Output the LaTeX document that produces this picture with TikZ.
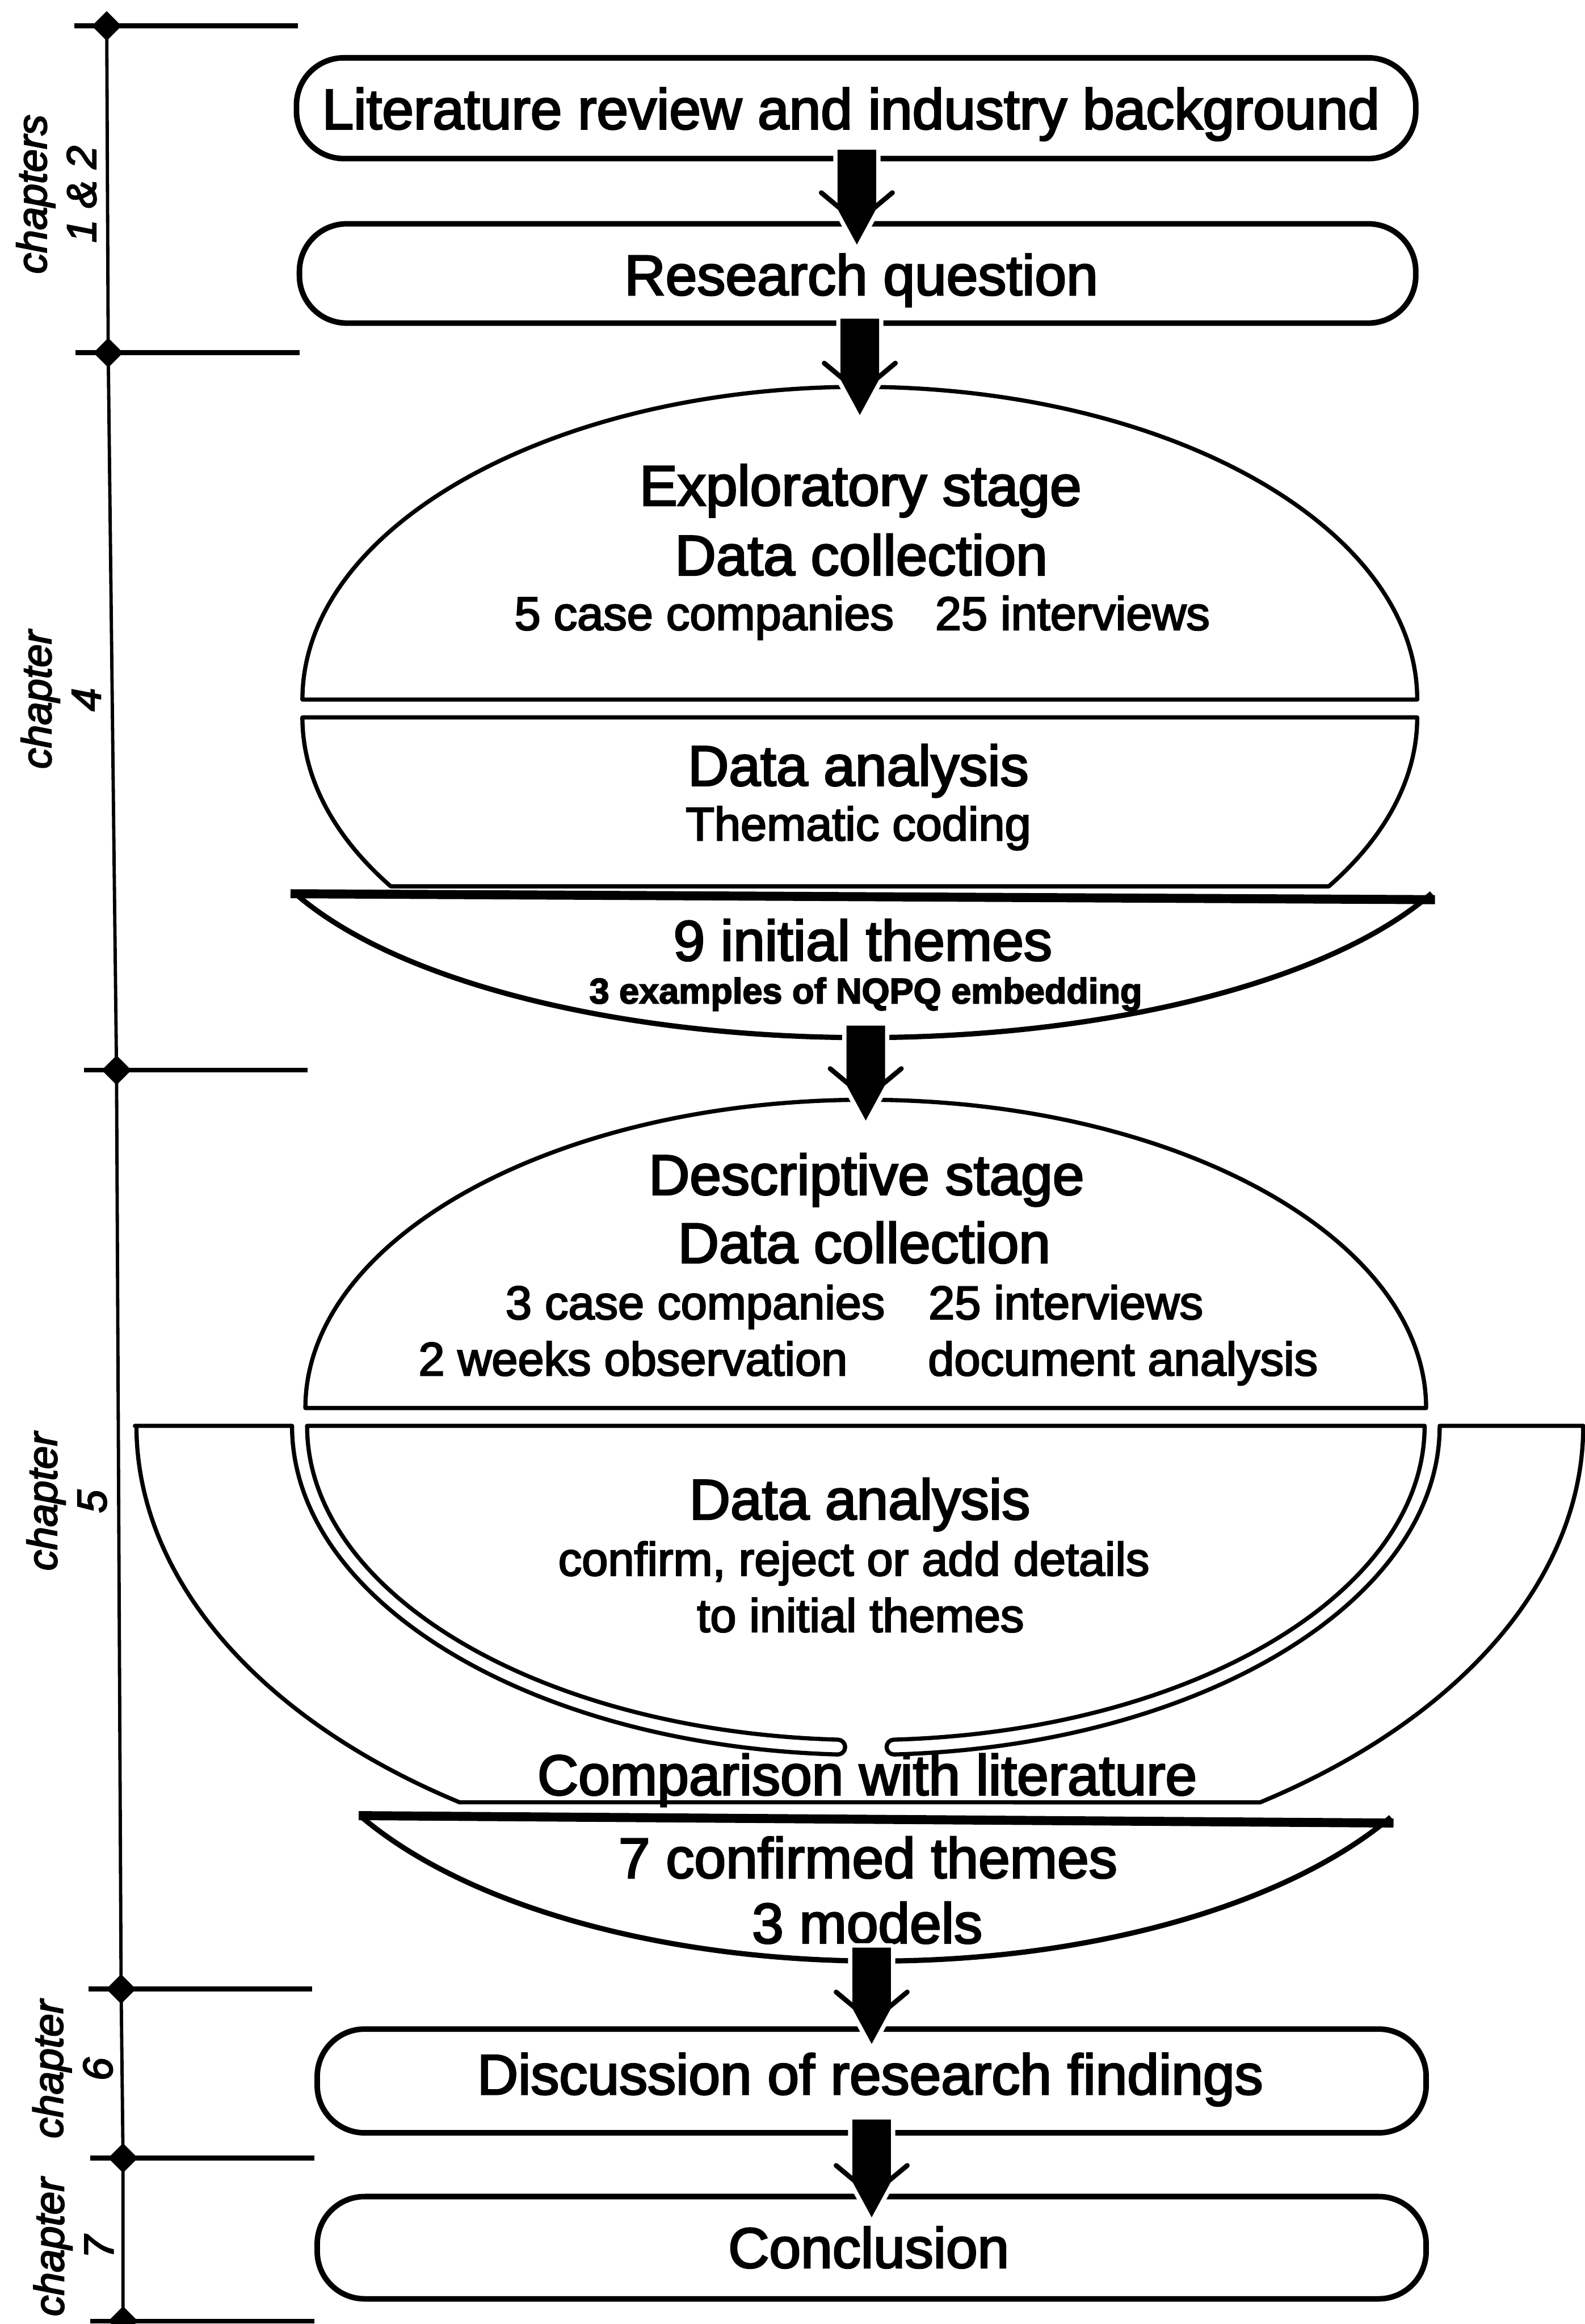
\documentclass[tikz,border=0pt]{standalone}
\usepackage{fontspec}
\setmainfont{Liberation Sans}[FakeBold=3]
\usetikzlibrary{calc}

% thick block arrow with thin side barbs, from #1 (top of shaft) to #2 (tip)
\newcommand{\blockarrow}[2]{%
  \path[draw=white, line width=5pt, line join=round]
    ($(#1)+(-13,0)$) -- ($(#2)+(-13,-24)$) -- (#2) -- ($(#2)+(13,-24)$) -- ($(#1)+(13,0)$) -- cycle;
  \fill ($(#1)+(-13,0)$) -- ($(#2)+(-13,-24)$) -- (#2) -- ($(#2)+(13,-24)$) -- ($(#1)+(13,0)$) -- cycle;
  \draw[barb] ($(#2)+(-24,-35)$) -- ($(#2)+(-12,-25)$);
  \draw[barb] ($(#2)+(24,-35)$) -- ($(#2)+(12,-25)$);
}
% filled diamond marker on the chapter scale, centred on #1
\newcommand{\chapmark}[1]{%
  \fill ($(#1)+(-10,0)$) -- ($(#1)+(0,-10)$) -- ($(#1)+(10,0)$) -- ($(#1)+(0,10)$) -- cycle;
}

\begin{document}
\begin{tikzpicture}[x=0.03cm, y=-0.03cm,
  pill/.style={draw, line width=3.2pt, rectangle, rounded corners=0.96cm, inner sep=0pt},
  outline/.style={draw, line width=2.4pt, line join=round},
  bowl/.style={draw, line width=3pt},
  bar/.style={draw, line width=5.2pt},
  barb/.style={line width=2.8pt, line cap=round},
  big/.style={font=\fontsize{32.7}{39}\selectfont, anchor=base, inner sep=0pt},
  mid/.style={font=\fontsize{27.1}{32}\selectfont, anchor=base, inner sep=0pt},
  small/.style={font=\bfseries\fontsize{20.6}{24}\selectfont, anchor=base, inner sep=0pt},
  chap/.style={font=\itshape\fontsize{23.9}{28.5}\selectfont, rotate=90, align=center, inner sep=0pt},
  tick/.style={line width=2.8pt},
  spine/.style={line width=1.9pt}
]
\fill[white] (0,0) rectangle (1069,1568);
\useasboundingbox (0,0) rectangle (1069,1568);

% ---------- chapter scale on the left ----------
\coordinate (p1) at (72,17.5);
\coordinate (p2) at (73,238);
\coordinate (p3) at (78.6,722);
\coordinate (p4) at (81.7,1342);
\coordinate (p5) at (83,1456);
\coordinate (p6) at (83,1566);
\draw[spine] (p1) -- (p2) -- (p3) -- (p4) -- (p5) -- (p6);
\foreach \p in {p1,p2,p3,p4,p5,p6}{
  \draw[tick] ($(\p)+(-22,0)$) -- ($(\p)+(129,0)$);
  \chapmark{\p}
}
\node[chap] (c1) at (38,131) {chapters\\1 \& 2};
\node[chap] (c2) at (41,472) {chapter\\4};
\node[chap] (c3) at (45,1013) {chapter\\5};
\node[chap] (c4) at (49,1396) {chapter\\6};
\node[chap] (c5) at (49.5,1516) {chapter\\7};

% ---------- rounded boxes ----------
\node[pill, minimum width=22.65cm, minimum height=2.04cm] (lit) at (577.5,73) {};
\node[pill, minimum width=22.59cm, minimum height=2.01cm] (rq) at (578.5,184.5) {};
\node[pill, minimum width=22.44cm, minimum height=2.10cm] (disc) at (588,1404) {};
\node[pill, minimum width=22.44cm, minimum height=2.07cm] (concl) at (588,1516.5) {};

% ---------- exploratory stage ----------
\draw[outline] (204,472) arc[start angle=180, end angle=360, x radius=376, y radius=211] -- cycle;
\draw[outline] (204,484) -- (956,484)
  arc[start angle=0, end angle=32.7, x radius=376, y radius=211]
  -- (263.6,598)
  arc[start angle=147.3, end angle=180, x radius=376, y radius=211] -- cycle;
\draw[bowl] (199,602.7) arc[start angle=155.9, end angle=24.1, x radius=420, y radius=164.5];
\draw[bar] (196,603) -- (968,607);

% ---------- descriptive stage ----------
\draw[outline] (206,950) arc[start angle=180, end angle=360, x radius=378, y radius=208] -- cycle;
\draw[outline] (91,962) -- (197,962)
  arc[start angle=180, end angle=92.8, x radius=387, y radius=222]
  arc[start angle=90, end angle=-90, radius=5]
  arc[start angle=92.9, end angle=180, x radius=377, y radius=212]
  -- (961,962)
  arc[start angle=0, end angle=87.1, x radius=377, y radius=212]
  arc[start angle=270, end angle=90, radius=5]
  arc[start angle=87.2, end angle=0, x radius=387, y radius=222]
  -- (1068,962)
  arc[start angle=0, end angle=56.4, x radius=488, y radius=305]
  -- (310,1216)
  arc[start angle=123.6, end angle=180, x radius=488, y radius=305]
  -- cycle;
\draw[bowl] (244,1226) arc[start angle=150.2, end angle=29.8, x radius=400, y radius=193];
\draw[bar] (242,1225) -- (940,1230);

% ---------- texts ----------
\node[big] (t1) at (574,87) {Literature review and industry background};
\node[big] (t2) at (581,199) {Research question};
\node[big] (t3) at (580.5,341) {Exploratory stage};
\node[big] (t4) at (581,388) {Data collection};
\node[mid] (t5a) at (475,425) {5 case companies};
\node[mid] (t5b) at (723.5,425) {25 interviews};
\node[big] (t6) at (579,530) {Data analysis};
\node[mid] (t7) at (579,567) {Thematic coding};
\node[big] (t8) at (582,648) {9 initial themes};
\node[small] (t9) at (584,677) {3 examples of NQPQ embedding};
\node[big] (t10) at (584.5,806) {Descriptive stage};
\node[big] (t11) at (583,852) {Data collection};
\node[mid] (t12a) at (469,890) {3 case companies};
\node[mid] (t12b) at (719,890) {25 interviews};
\node[mid] (t13a) at (427,928) {2 weeks observation};
\node[mid] (t13b) at (757.5,928) {document analysis};
\node[big] (t14) at (580,1025) {Data analysis};
\node[mid] (t15) at (576,1063) {confirm, reject or add details};
\node[mid] (t16) at (580.5,1101) {to initial themes};
\node[big] (t17) at (585,1211) {Comparison with literature};
\node[big] (t18) at (585.5,1267) {7 confirmed themes};
\node[big] (t19) at (585,1311) {3 models};
\node[big] (t20) at (587,1413) {Discussion of research findings};
\node[big] (t21) at (586,1530) {Conclusion};

% ---------- arrows ----------
\coordinate (a1s) at (578,101);  \coordinate (a1e) at (578,165);
\coordinate (a2s) at (580,215);  \coordinate (a2e) at (580,280);
\coordinate (a3s) at (584,692);  \coordinate (a3e) at (584,756);
\coordinate (a4s) at (588,1314); \coordinate (a4e) at (588,1379);
\coordinate (a5s) at (588,1430); \coordinate (a5e) at (588,1496);
\blockarrow{a1s}{a1e}
\blockarrow{a2s}{a2e}
\blockarrow{a3s}{a3e}
\blockarrow{a4s}{a4e}
\blockarrow{a5s}{a5e}
\end{tikzpicture}
\end{document}
